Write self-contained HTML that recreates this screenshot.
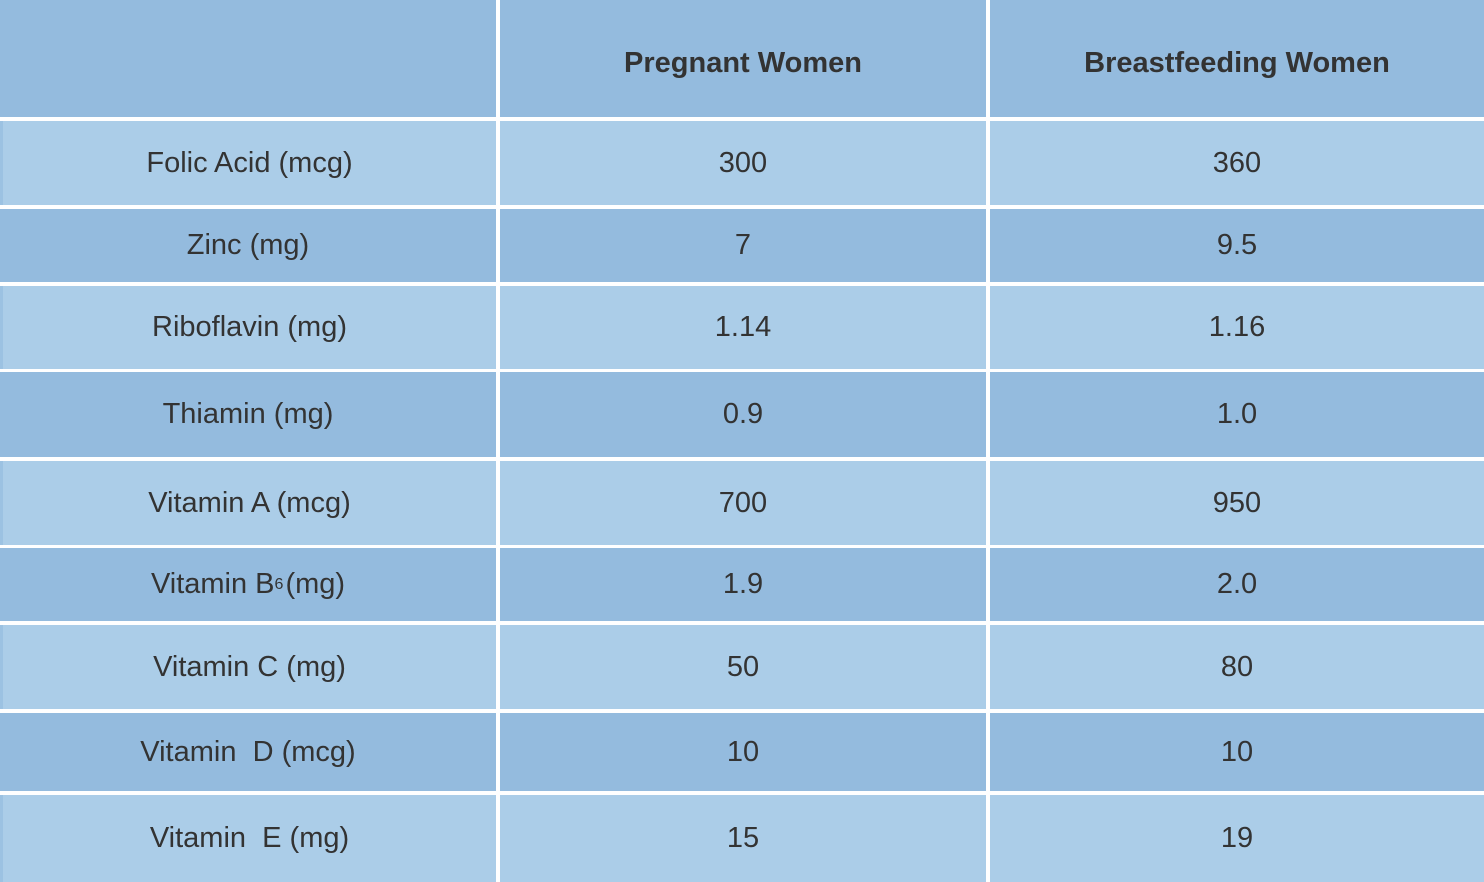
<!DOCTYPE html>
<html><head><meta charset="utf-8"><style>
body{margin:0;width:1484px;height:882px;background:#fff;position:relative;overflow:hidden;font-family:"Liberation Sans",sans-serif;color:#333}
.c{position:absolute;display:flex;align-items:center;justify-content:center;font-size:29px;box-sizing:border-box}
.h{background:#94bbde;font-weight:bold;font-size:29px}
.d{background:#94bbde}
.l{background:#abcde8}
.l.f{border-left:3px solid #9cc2e2}
sub{font-size:16px;vertical-align:-8px;margin-right:2px}
</style></head><body>
<div id="t"></div>
<script>
const rows=[["","Pregnant Women","Breastfeeding Women"],
["Folic Acid (mcg)","300","360"],["Zinc (mg)","7","9.5"],["Riboflavin (mg)","1.14","1.16"],
["Thiamin (mg)","0.9","1.0"],["Vitamin A (mcg)","700","950"],["Vitamin B<sub>6</sub> (mg)","1.9","2.0"],
["Vitamin C (mg)","50","80"],["Vitamin&nbsp; D (mcg)","10","10"],["Vitamin&nbsp; E (mg)","15","19"]];
const ys=[[0,117],[121,205],[209,282],[286,369],[372,457],[461,545],[548,621],[625,709],[713,791],[795,882]];
const xs=[[0,496],[500,986],[990,1484]];
const names=["nutrient","pregnant","breastfeeding"];
const t=document.getElementById('t');
rows.forEach((r,i)=>{r.forEach((v,j)=>{
const d=document.createElement('div');
d.className='c '+(i===0?'h':(i%2?'l':'d'))+(j===0?' f':'');
d.style.left=xs[j][0]+'px';d.style.width=(xs[j][1]-xs[j][0])+'px';
d.style.top=ys[i][0]+'px';d.style.height=(ys[i][1]-ys[i][0])+'px';
if(i===0&&j>0)d.style.paddingTop='10px';
d.innerHTML=v;


t.appendChild(d);});});
</script>
</body></html>
